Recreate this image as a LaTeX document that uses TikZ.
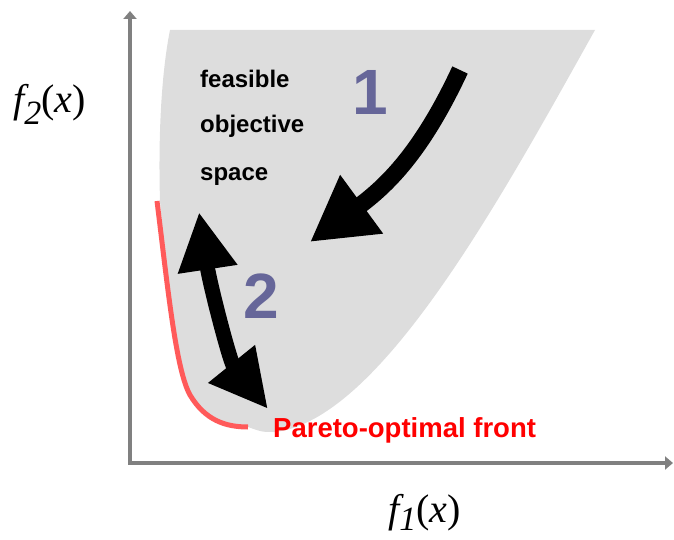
\documentclass[tikz,border=0pt]{standalone}
\usepackage{fontspec}
\setmainfont{Liberation Serif}
\newfontfamily\labelfont{Liberation Sans}
\usepackage{xcolor}
\usetikzlibrary{arrows.meta, positioning, calc}

\definecolor{regiongray}{RGB}{221,221,221}
\definecolor{axisgray}{RGB}{128,128,128}
\definecolor{numblue}{RGB}{102,102,153}
\definecolor{frontred}{RGB}{255,90,90}

\begin{document}
\begin{tikzpicture}[x=1pt, y=-1pt,
  axis/.style={draw=axisgray, line width=4.5pt,
               {Triangle[width=13pt,length=8pt]}-{Triangle[width=13pt,length=8pt]}},
  region/.style={fill=regiongray, draw=none},
  front/.style={draw=frontred, line width=5pt},
  bigarrow/.style={draw=black, line width=17pt,
                   -{Triangle[width=68pt,length=64pt]}},
  dblarrow/.style={draw=black, line width=15pt,
                   {Triangle[width=56pt,length=58pt]}-{Triangle[width=56pt,length=58pt]}},
  txt/.style={font=\labelfont\bfseries\fontsize{24}{24}\selectfont, anchor=base west, inner sep=0pt},
  num/.style={font=\labelfont\bfseries\fontsize{64}{64}\selectfont, text=numblue, inner sep=0pt},
  axlabel/.style={font=\fontsize{40}{40}\selectfont\itshape, anchor=base west, inner sep=0pt}]
\useasboundingbox (0,0) rectangle (674,540);

% feasible region
\path[region] (170,30) -- (595,30)
  .. controls (500,200) and (380,420) .. (275,432)
  .. controls (262,432) .. (248,427)
  .. controls (225,427) and (205,420) .. (190,395)
  .. controls (176,370) and (168,290) .. (160,201)
  .. controls (158,130) and (162,70) .. (170,30) -- cycle;

% Pareto front
\draw[front] (157,201) .. controls (168,290) and (176,370) .. (190,395)
  .. controls (205,420) and (225,427) .. (248,427);

% axes
\coordinate (ytop) at (130,11);
\coordinate (orig) at (130,463);
\coordinate (xend) at (673,463);
\draw[axis] (ytop) -- (orig) -- (xend);

% labels
\node[txt] (feas) at (200,88)  {feasible};
\node[txt] (obj)  at (200,133) {objective};
\node[txt] (spc)  at (200,181) {space};
\node[num] (one)  at (370,92)  {1};
\node[num] (two)  at (261,296) {2};
\node[txt, text=red, font=\labelfont\bfseries\fontsize{27.5}{27.5}\selectfont]
  (pareto) at (273,437) {Pareto-optimal front};

\node[axlabel] (f2) at (13,113)
  {f\raisebox{-0.28em}{\fontsize{34}{34}\selectfont 2}\upshape(\itshape x\upshape)};
\node[axlabel] (f1) at (388,522)
  {f\raisebox{-0.22em}{\fontsize{34}{34}\selectfont 1}\upshape(\itshape x\upshape)};

% arrows
\coordinate (s1) at (460,70);
\coordinate (t1) at (310,242);
\draw[bigarrow] (s1) .. controls (425,145) and (392,182) .. (t1);
\coordinate (a2) at (199,212);
\coordinate (b2) at (268,409);
\draw[dblarrow] (a2) .. controls (210,285) and (230,362) .. (b2);
\end{tikzpicture}
\end{document}
